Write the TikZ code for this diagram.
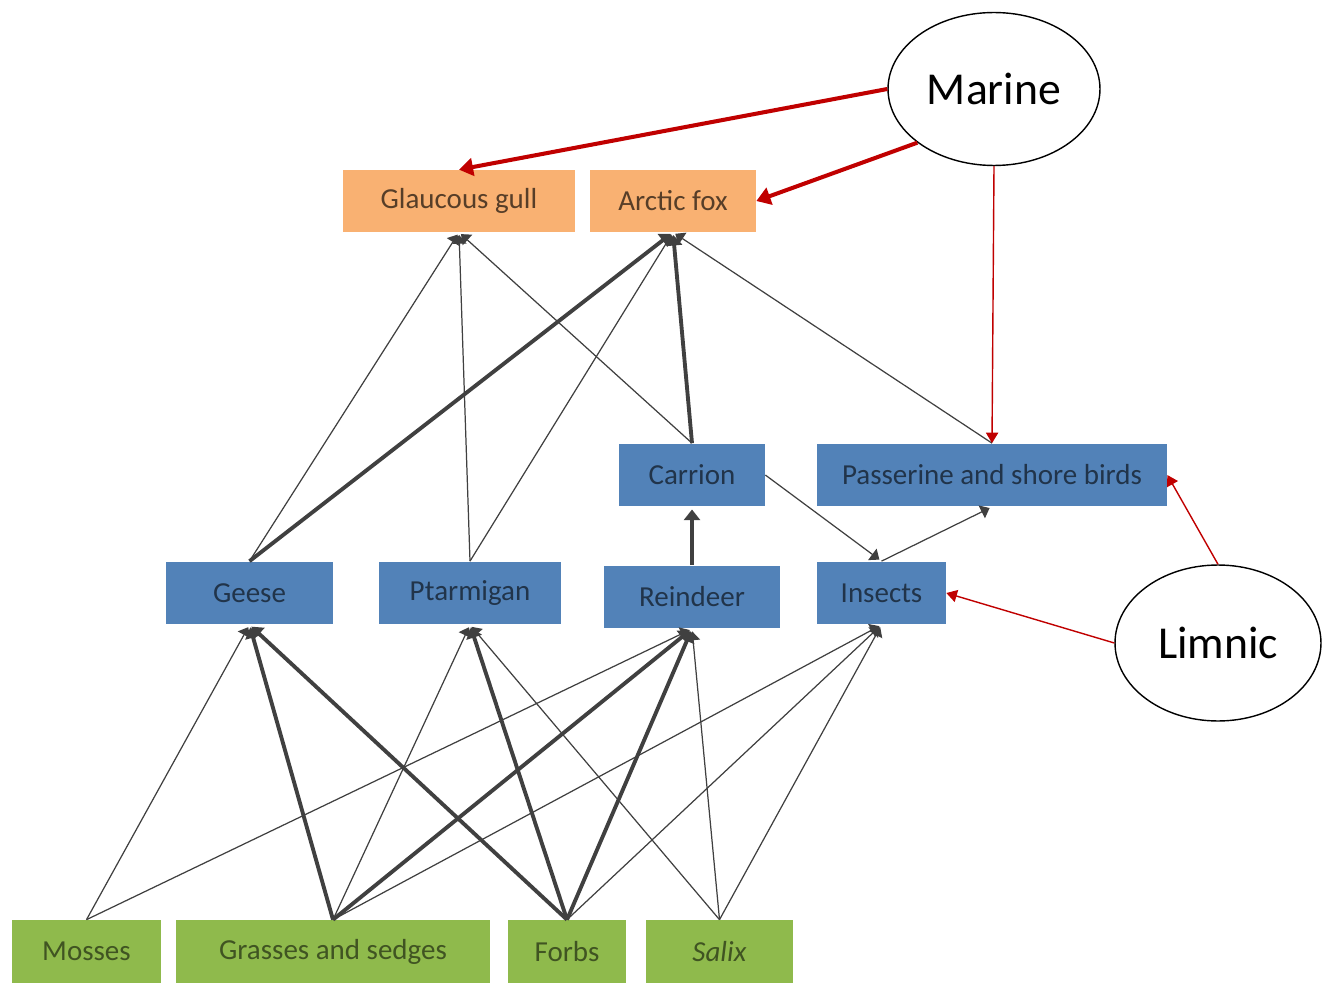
\documentclass[tikz,border=0pt]{standalone}
\usepackage{fontspec}
\setmainfont{Carlito}
\usepackage{tikz}
\usetikzlibrary{arrows.meta, shapes.geometric}
\definecolor{peach}{HTML}{F9B172}
\definecolor{steel}{HTML}{5282B8}
\definecolor{leaf}{HTML}{8FBA4C}
\definecolor{carbon}{HTML}{404040}
\definecolor{crimson}{HTML}{C00000}
\tikzset{
  every picture/.style={font=\fontsize{16.5}{20}\selectfont},
  pred/.style={fill=peach, text=black!65!peach, minimum height=1.24cm, inner sep=0pt},
  herb/.style={fill=steel, text=black!60!steel, minimum height=1.26cm, inner sep=0pt},
  plant/.style={fill=leaf, text=black!55!leaf, minimum height=1.26cm, inner sep=0pt},
  source/.style={ellipse, draw=black, thick, fill=white, inner sep=0pt,
              font=\fontsize{26}{30}\selectfont},
  feed/.style={-{Triangle[width=8pt,length=5pt]}, line width=0.7pt, carbon, shorten >=1.5pt},
  feedt/.style={-{Triangle[width=9pt,length=6pt]}, line width=2.2pt, carbon, shorten >=1.5pt},
  inflow/.style={-{Triangle[width=7pt,length=6pt]}, line width=0.8pt, crimson},
  inflowt/.style={-{Triangle[width=10pt,length=8pt]}, line width=2.3pt, crimson},
}
\begin{document}
\begin{tikzpicture}[x=0.02cm, y=-0.02cm]
  \useasboundingbox (0,0) rectangle (1322,983);
  % top predators
  \node[pred, minimum width=4.64cm] (gull) at (459,201) {Glaucous gull};
  \node[pred, minimum width=3.32cm] (fox) at (673,201) {Arctic fox};
  % middle
  \node[herb, minimum width=2.92cm] (carrion) at (692,475) {Carrion};
  \node[herb, minimum width=7.0cm] (birds) at (992,475) {Passerine and shore birds};
  \node[herb, minimum width=3.34cm] (geese) at (249.5,593) {Geese};
  \node[herb, minimum width=3.64cm] (ptarmigan) at (470,593) {Ptarmigan};
  \node[herb, minimum width=3.52cm] (reindeer) at (692,597) {Reindeer};
  \node[herb, minimum width=2.58cm] (insects) at (881.5,593) {Insects};
  % plants
  \node[plant, minimum width=2.98cm] (mosses) at (86.5,951.5) {Mosses};
  \node[plant, minimum width=6.28cm] (grasses) at (333,951.5) {Grasses and sedges};
  \node[plant, minimum width=2.36cm] (forbs) at (567,951.5) {Forbs};
  \node[plant, minimum width=2.94cm] (salix) at (719.5,951.5) {\textit{Salix}};
  % inputs
  \node[source, minimum width=4.24cm, minimum height=3.06cm] (marine) at (994,89) {Marine};
  \node[source, minimum width=4.12cm, minimum height=3.12cm] (limnic) at (1218,643) {Limnic};

  \foreach \a/\b in {mosses/geese, mosses/reindeer, grasses/ptarmigan, grasses/insects,
                     forbs/insects, salix/ptarmigan, salix/reindeer, salix/insects}
    \draw[feed] (\a.north) -- (\b.south);
  \foreach \a/\b in {grasses/geese, grasses/reindeer, forbs/geese, forbs/ptarmigan, forbs/reindeer}
    \draw[feedt] (\a.north) -- (\b.south);
  \foreach \a/\b in {geese/gull, ptarmigan/gull, ptarmigan/fox, carrion/gull, birds/fox}
    \draw[feed] (\a.north) -- (\b.south);
  \foreach \a/\b in {geese/fox, carrion/fox, reindeer/carrion}
    \draw[feedt] (\a.north) -- (\b.south);
  \draw[feed] (carrion.east) -- (insects.north);
  \draw[feed] (insects.north) -- (birds.south);

  \draw[inflowt] (marine.180) -- (gull.north);
  \draw[inflowt] (marine.215) -- (fox.east);
  \draw[inflow] (marine.south) -- (birds.north);
  \draw[inflow] (limnic.west) -- (insects.east);
  \draw[inflow] (limnic.north) -- (birds.east);
\end{tikzpicture}
\end{document}
